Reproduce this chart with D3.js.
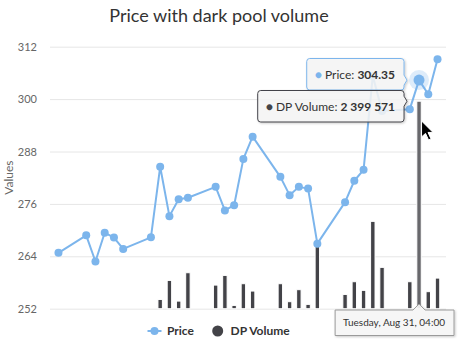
<!DOCTYPE html>
<html>
<head>
<meta charset="utf-8">
<script src="https://cdn.jsdelivr.net/npm/d3@7"></script>
<style>
  html, body { margin: 0; padding: 0; background: #ffffff; }
  svg { display: block; font-family: Lato, "Open Sans", sans-serif; }
</style>
</head>
<body>
<svg id="chart" width="460" height="348"></svg>
<script>
// ---------------- data ----------------
const dates = [
  "2021-07-23T04:00", "2021-07-26T04:00", "2021-07-27T04:00", "2021-07-28T04:00", "2021-07-29T04:00", "2021-07-30T04:00",
  "2021-08-02T04:00", "2021-08-03T04:00", "2021-08-04T04:00", "2021-08-05T04:00", "2021-08-06T04:00",
  "2021-08-09T04:00", "2021-08-10T04:00", "2021-08-11T04:00", "2021-08-12T04:00", "2021-08-13T04:00",
  "2021-08-16T04:00", "2021-08-17T04:00", "2021-08-18T04:00", "2021-08-19T04:00", "2021-08-20T04:00",
  "2021-08-23T04:00", "2021-08-24T04:00", "2021-08-25T04:00", "2021-08-26T04:00", "2021-08-27T04:00",
  "2021-08-30T04:00", "2021-08-31T04:00", "2021-09-01T04:00", "2021-09-02T04:00"
];
const price = [
  264.8, 268.8, 262.8, 269.4, 268.3, 265.7,
  268.35, 284.5, 273.2, 277.05, 277.4,
  279.9, 274.5, 275.7, 286.3, 291.4,
  282.2, 278.0, 279.9, 279.5, 266.9,
  276.4, 281.3, 283.8, 305.3, 297.3,
  297.7, 304.35, 301.1, 309.1
];
const dpVolume = [
  null, null, null, null, null, null,
  null, 107000, 327000, 88000, 416000,
  273000, 385000, 38000, 289000, 204000,
  289000, 81000, 220000, 50000, 732000,
  165000, 312000, 212000, 1010000, 478000,
  312000, 2399571, 197000, 354000
];
const yTicks = [252, 264, 276, 288, 300, 312];
const seriesNames = ["Price", "DP Volume"];
const titleText = "Price with dark pool volume";
const yTitle = "Values";
const hoverIndex = 27;

// ---------------- setup ----------------
const svg = d3.select("#chart");
const parse = d3.utcParse("%Y-%m-%dT%H:%M");
const t = dates.map(parse);
const priceColor = "#7cb5ec", volColor = "#434348";

const plot = { left: 50, right: 446, top: 46.7, bottom: 308.7 };
const pad = 22 * 3600 * 1000;
const x = d3.scaleTime()
  .domain([new Date(+t[0] - pad), new Date(+t[t.length - 1] + pad)])
  .range([plot.left, plot.right]);
const y = d3.scaleLinear().domain([252, 312]).range([plot.bottom, plot.top]);
const yv = d3.scaleLinear().domain([0, 3030000]).range([plot.bottom, plot.top]);

const defs = svg.append("defs");
const f = defs.append("filter").attr("id", "shadow").attr("x", "-20%").attr("y", "-30%").attr("width", "140%").attr("height", "160%");
f.append("feDropShadow").attr("dx", 1).attr("dy", 1).attr("stdDeviation", 1.2).attr("flood-color", "#000").attr("flood-opacity", 0.22);

// title
svg.append("text").attr("x", 219).attr("y", 22).attr("text-anchor", "middle")
  .attr("font-size", 18).attr("fill", "#333333").text(titleText);

// y axis grid + labels
const yAxis = d3.axisLeft(y).tickValues(yTicks).tickSize(-(plot.right - plot.left)).tickPadding(13);
const gy = svg.append("g").attr("transform", `translate(${plot.left},0)`).call(yAxis);
gy.select(".domain").remove();
gy.selectAll(".tick line").attr("stroke", "#e6e6e6");
gy.selectAll(".tick text").attr("fill", "#666666").attr("font-size", 11)
  .attr("font-family", "Lato, 'Open Sans', sans-serif").attr("dy", "0.32em");

svg.append("text").attr("transform", `translate(12.5,${(plot.top + plot.bottom) / 2}) rotate(-90)`)
  .attr("text-anchor", "middle").attr("font-size", 12).attr("fill", "#666666").text(yTitle);

// volume bars
const dayW = x(new Date(+t[0] + 86400000)) - x(t[0]);
const bw = dayW * 0.6 * 0.8;
const volData = t.map((d, i) => ({ d, v: dpVolume[i], i })).filter(o => o.v != null);
svg.append("g").selectAll("rect").data(volData).join("rect")
  .attr("x", o => x(o.d) - bw / 2)
  .attr("y", o => yv(o.v))
  .attr("width", bw)
  .attr("height", o => yv(0) - yv(o.v))
  .attr("fill", o => o.i === hoverIndex ? "#68686c" : volColor)
  .attr("stroke", "#ffffff").attr("stroke-width", 1);

// price line
const line = d3.line().x((d, i) => x(t[i])).y(d => y(d));
svg.append("path").datum(price).attr("d", line)
  .attr("fill", "none").attr("stroke", priceColor).attr("stroke-width", 2)
  .attr("stroke-linejoin", "round").attr("stroke-linecap", "round");
svg.append("g").selectAll("circle").data(price).join("circle")
  .attr("cx", (d, i) => x(t[i])).attr("cy", d => y(d)).attr("r", 4)
  .attr("fill", priceColor);

// hover state
const hx = x(t[hoverIndex]), hy = y(price[hoverIndex]);
svg.append("circle").attr("cx", hx).attr("cy", hy).attr("r", 10).attr("fill", priceColor).attr("opacity", 0.25);
svg.append("circle").attr("cx", hx).attr("cy", hy).attr("r", 5.5).attr("fill", priceColor);

// legend
const lg = svg.append("g").attr("font-size", 12).attr("font-weight", "bold").attr("fill", "#333333");
lg.append("line").attr("x1", 147.5).attr("x2", 161.5).attr("y1", 331).attr("y2", 331)
  .attr("stroke", priceColor).attr("stroke-width", 2);
lg.append("circle").attr("cx", 154.5).attr("cy", 331).attr("r", 4).attr("fill", priceColor);
lg.append("text").attr("x", 167).attr("y", 335).text(seriesNames[0]);
lg.append("circle").attr("cx", 217.7).attr("cy", 331).attr("r", 5.5).attr("fill", volColor);
lg.append("text").attr("x", 230.5).attr("y", 335).text(seriesNames[1]);

// tooltips
const fmtVol = v => d3.format(",")(v).replace(/,/g, " ");
function tooltip(right, top, color, label, value, notchY) {
  const g = svg.append("g");
  const box = g.append("path");
  const txt = g.append("text").attr("font-size", 12).attr("fill", "#333333");
  txt.append("tspan").attr("fill", color).attr("font-size", 12).text("\u25CF ");
  txt.append("tspan").text(label + ": ");
  txt.append("tspan").attr("font-weight", "bold").text(value);
  const tw = txt.node().getComputedTextLength();
  const w = tw + 17, h = 31.5;
  const left = right - w;
  txt.attr("x", left + 8).attr("y", top + 20);
  const ny = notchY - top;
  const r = 3;
  const p = `M${left + r},${top} H${right - r} Q${right},${top} ${right},${top + r}
    V${top + ny - 5} L${right + 3},${top + ny} L${right},${top + ny + 5}
    V${top + h - r} Q${right},${top + h} ${right - r},${top + h}
    H${left + r} Q${left},${top + h} ${left},${top + h - r}
    V${top + r} Q${left},${top} ${left + r},${top} Z`;
  box.attr("d", p).attr("fill", "rgba(247,247,247,0.85)").attr("stroke", color)
    .attr("stroke-width", 1).attr("filter", "url(#shadow)");
  g.raise();
  return { top, h };
}
const tp = tooltip(hx - 15, 58.5, priceColor, seriesNames[0], d3.format(".2f")(price[hoverIndex]), hy);
tooltip(hx - 15, tp.top + tp.h + 0.5, volColor, seriesNames[1], fmtVol(dpVolume[hoverIndex]), yv(dpVolume[hoverIndex]));

// header tooltip
(function () {
  const g = svg.append("g");
  const box = g.append("path");
  const txt = g.append("text").attr("font-size", 10).attr("fill", "#333333")
    .text(d3.utcFormat("%A, %b %d, %H:%M")(t[hoverIndex]));
  const w = txt.node().getComputedTextLength() + 17, h = 25.5;
  const top = 310;
  const left = Math.min(hx - w / 2, 454 - w), right = left + w;
  txt.attr("x", left + 8).attr("y", top + 15.5);
  const p = `M${left},${top} H${hx - 6} L${hx},${top - 6} L${hx + 6},${top} H${right} V${top + h} H${left} Z`;
  box.attr("d", p).attr("fill", "rgba(247,247,247,0.9)").attr("stroke", "#9a9a9a")
    .attr("stroke-width", 1).attr("filter", "url(#shadow)");
})();

// mouse cursor
svg.append("path")
  .attr("d", "M0,0 L0,16 L4,12.5 L7,19 L9.5,18 L6.5,11.5 L11.5,11.5 Z")
  .attr("transform", `translate(${hx + 2.5},${y(295)})`)
  .attr("fill", "#000").attr("stroke", "#fff").attr("stroke-width", 1);
</script>
</body>
</html>
